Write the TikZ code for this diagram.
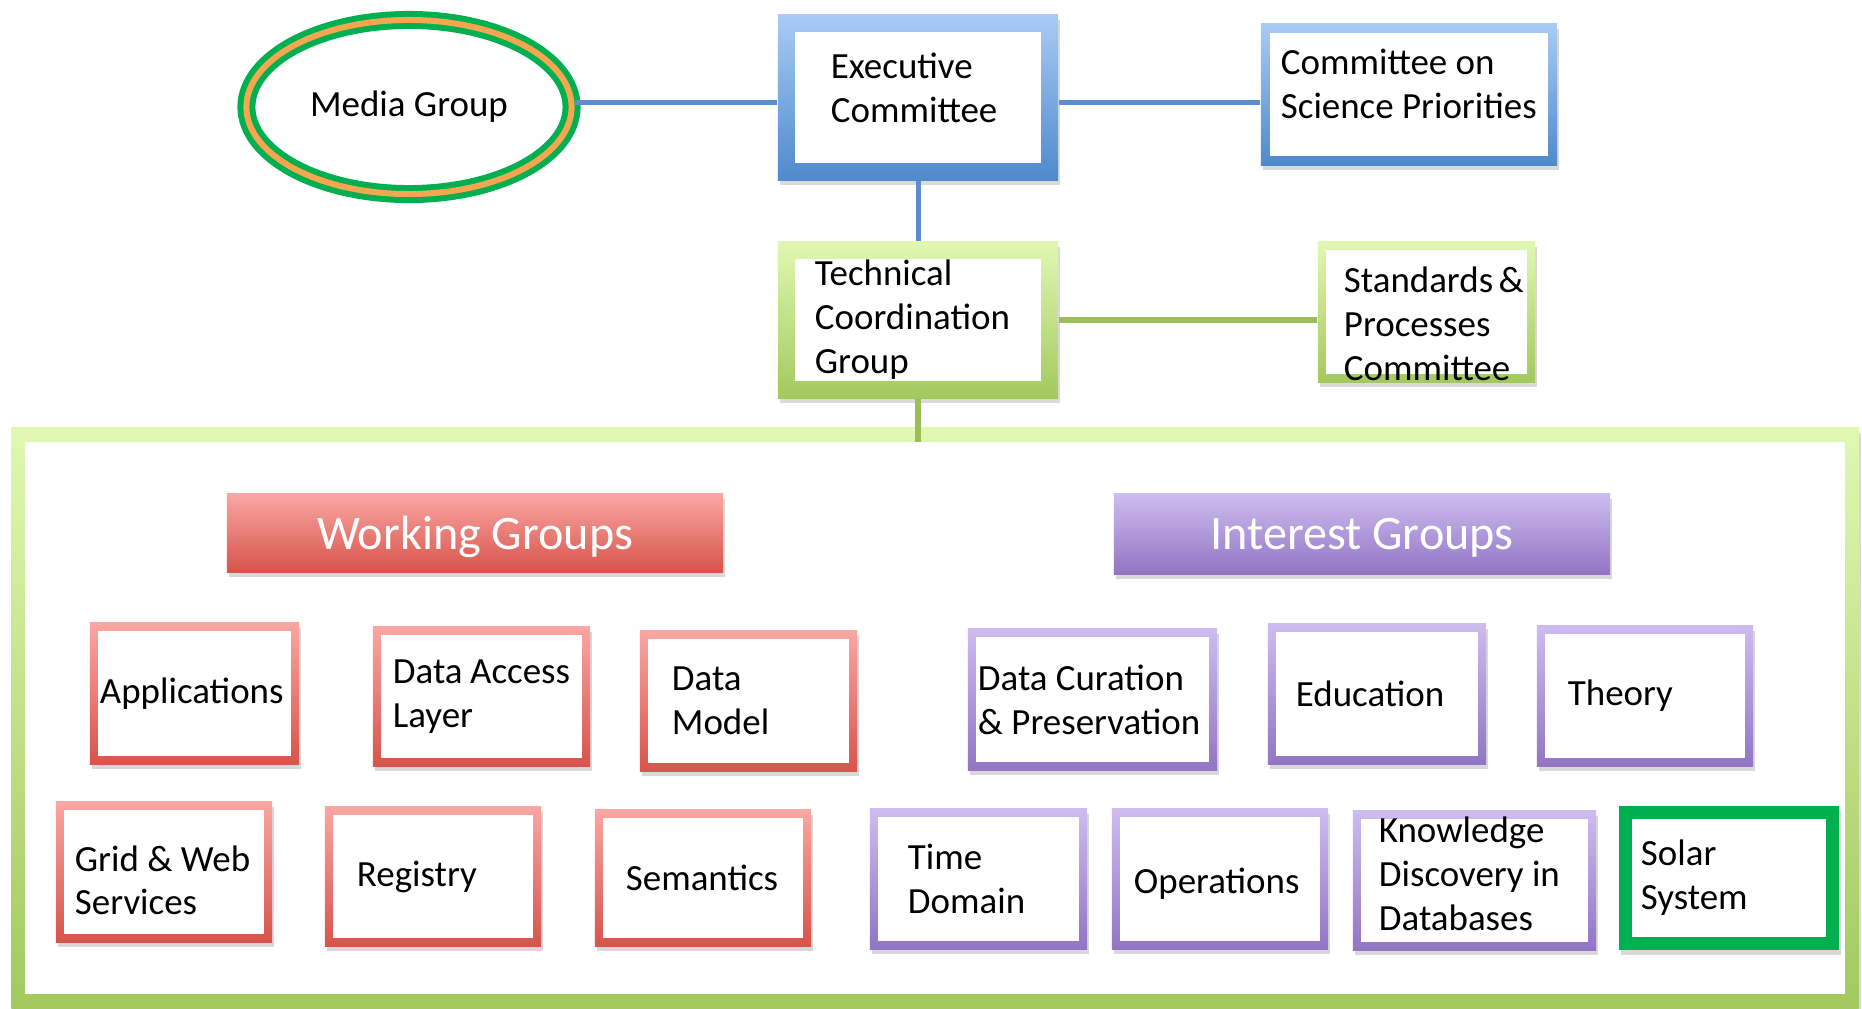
\documentclass[tikz,border=0pt]{standalone}
\usepackage{fontspec}
\setmainfont{Carlito}
\usetikzlibrary{shapes.geometric,shadows}

\definecolor{blueTop}{RGB}{169,203,245}
\definecolor{blueBot}{RGB}{79,138,204}
\definecolor{greenTop}{RGB}{224,248,178}
\definecolor{greenBot}{RGB}{163,201,94}
\definecolor{redTop}{RGB}{250,166,162}
\definecolor{redBot}{RGB}{215,84,76}
\definecolor{purpleTop}{RGB}{206,188,239}
\definecolor{purpleBot}{RGB}{145,117,196}
\definecolor{solarGreen}{RGB}{0,176,80}
\definecolor{mediaOrange}{RGB}{247,166,80}
\definecolor{lineBlue}{RGB}{91,142,206}
\definecolor{lineGreen}{RGB}{155,190,90}

\begin{document}
\begin{tikzpicture}[x=0.01cm,y=-0.01cm,
  framed/.style={path picture={\fill[white]
      ([shift={(#1,-#1)}]path picture bounding box.north west) rectangle
      ([shift={(-#1,#1)}]path picture bounding box.south east);}},
  grp/.style={rectangle, inner ysep=0pt, align=flush left,
      font=\fontsize{10.5}{12.5}\selectfont,
      execute at begin node={\hyphenpenalty=10000},
      drop shadow={shadow xshift=0.02cm, shadow yshift=-0.05cm, opacity=0.3}},
  bluebox/.style={grp, top color=blueTop, bottom color=blueBot, framed=#1},
  greenbox/.style={grp, top color=greenTop, bottom color=greenBot, framed=#1},
  redbox/.style={grp, top color=redTop, bottom color=redBot, framed=0.08cm},
  purplebox/.style={grp, top color=purpleTop, bottom color=purpleBot, framed=0.08cm},
  solarbox/.style={grp, fill=solarGreen, framed=0.13cm},
  header/.style={rectangle, text=white, text depth=0pt, font=\fontsize{13.7}{16}\selectfont,
      drop shadow={shadow xshift=0.02cm, shadow yshift=-0.05cm, opacity=0.3}},
  blueline/.style={draw=lineBlue, line width=0.05cm},
  greenline/.style={draw=lineGreen, line width=0.06cm},
]
\useasboundingbox (0,0) rectangle (1862,1008);

% top level
\node (media) [ellipse, draw=solarGreen, line width=0.06cm, double=mediaOrange,
  double distance=0.06cm, fill=white, minimum width=3.25cm, minimum height=1.74cm,
  inner sep=0pt, font=\fontsize{10.5}{12.5}\selectfont,
  drop shadow={shadow xshift=0.02cm, shadow yshift=-0.05cm, opacity=0.25}]
  at (409,107) {Media Group};
\node (exec) [bluebox=0.17cm, minimum width=2.80cm, minimum height=1.65cm,
  text width=1.74cm, inner xsep=0.53cm] at (918,97.5)
  {Executive\\Committee\rule[-5.5pt]{0pt}{0pt}};
\node (csp) [bluebox=0.09cm, minimum width=2.96cm, minimum height=1.41cm,
  text width=2.56cm, inner xsep=0.20cm] at (1409,94.5)
  {Committee~on\\Science~Priorities\rule[-6pt]{0pt}{0pt}};
\coordinate (hub) at (918,102);

\node (tcg) [greenbox=0.17cm, minimum width=2.80cm, minimum height=1.56cm,
  text width=2.06cm, inner xsep=0.37cm] at (918,320) {Technical\\Coordination\\Group};
\node (spc) [greenbox=0.08cm, minimum width=2.17cm, minimum height=1.40cm,
  text width=1.65cm, inner xsep=0.26cm] at (1426.5,312)
  {\rule{0pt}{14pt}Standards~\&\\Processes\\Committee};

\draw[blueline] (media.east |- hub) -- (exec.west |- hub);
\draw[blueline] (exec.east |- hub) -- (csp.west |- hub);
\draw[blueline] (exec.south) -- (tcg.north);
\draw[greenline] (tcg.east) -- (tcg.east -| spc.west);

% groups panel
\node (panel) [greenbox=0.14cm, minimum width=18.46cm, minimum height=5.80cm,
  inner sep=0pt, drop shadow={opacity=0}] at (935,718) {};
\draw[greenline] (tcg.south) -- ([yshift=-0.15cm]tcg.south |- panel.north);

\node (wg) [header, top color=redTop, bottom color=redBot,
  minimum width=4.96cm, minimum height=0.78cm] at (475,533) {Working Groups};
\node (ig) [header, top color=purpleTop, bottom color=purpleBot,
  minimum width=4.96cm, minimum height=0.80cm] at (1362,534) {Interest Groups};

% working groups
\node (appl) [redbox, minimum width=2.09cm, minimum height=1.41cm,
  text width=1.89cm, inner xsep=0.10cm] at (194.5,693.5) {Applications};
\node (dal) [redbox, minimum width=2.17cm, minimum height=1.39cm,
  text width=1.77cm, inner xsep=0.20cm] at (481.5,696.5) {Data~Access\\Layer};
\node (dm) [redbox, minimum width=2.17cm, minimum height=1.40cm,
  text width=1.53cm, inner xsep=0.32cm] at (748.5,701) {Data\\Model};
\node (grid) [redbox, minimum width=2.16cm, minimum height=1.40cm,
  text width=1.78cm, inner xsep=0.19cm] at (164,872)
  {\rule{0pt}{12pt}Grid~\&~Web\\Services};
\node (reg) [redbox, minimum width=2.16cm, minimum height=1.39cm,
  text width=1.52cm, inner xsep=0.32cm] at (433,876.5) {Registry};
\node (sem) [redbox, minimum width=2.16cm, minimum height=1.36cm,
  text width=1.54cm, inner xsep=0.31cm] at (703,878) {Semantics};

% interest groups
\node (dcp) [purplebox, minimum width=2.49cm, minimum height=1.41cm,
  text width=2.29cm, inner xsep=0.10cm] at (1092.5,699.5) {Data~Curation\\\&~Preservation};
\node (edu) [purplebox, minimum width=2.18cm, minimum height=1.40cm,
  text width=1.62cm, inner xsep=0.28cm] at (1377,694) {Education};
\node (theo) [purplebox, minimum width=2.16cm, minimum height=1.40cm,
  text width=1.54cm, inner xsep=0.31cm] at (1645,696) {Theory};
\node (td) [purplebox, minimum width=2.17cm, minimum height=1.40cm,
  text width=1.41cm, inner xsep=0.38cm] at (978.5,879) {Time\\Domain};
\node (ops) [purplebox, minimum width=2.16cm, minimum height=1.40cm,
  text width=1.72cm, inner xsep=0.22cm] at (1220,879) {\rule{0pt}{10pt}Operations};
\node (kdd) [purplebox, minimum width=2.43cm, minimum height=1.39cm,
  text width=1.91cm, inner xsep=0.26cm] at (1474.5,880.5)
  {Knowledge\\Discovery~in\\Databases\rule[-4pt]{0pt}{0pt}};
\node (solar) [solarbox, minimum width=2.20cm, minimum height=1.44cm,
  text width=1.76cm, inner xsep=0.22cm] at (1729,878) {Solar\\System};
\end{tikzpicture}
\end{document}
